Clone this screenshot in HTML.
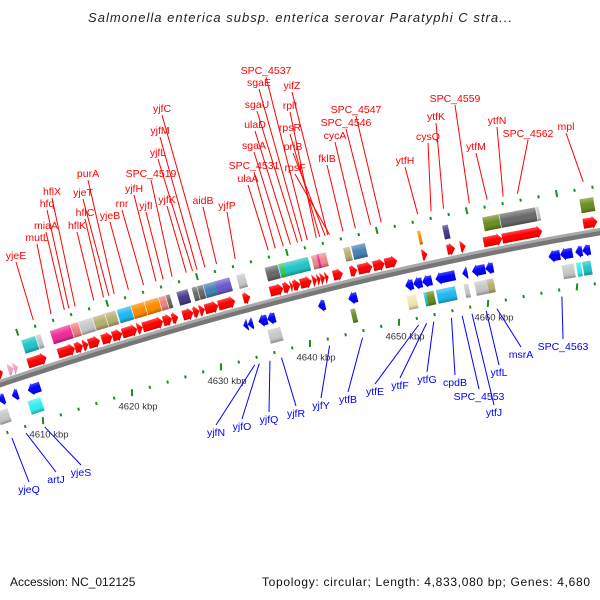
<!DOCTYPE html>
<html><head><meta charset="utf-8">
<style>
html,body{margin:0;padding:0;background:#fff;}
svg{display:block;font-family:"Liberation Sans","DejaVu Sans",sans-serif;}
</style></head>
<body>
<svg id="chart" width="600" height="600" viewBox="0 0 600 600" xmlns="http://www.w3.org/2000/svg">
<defs>
<linearGradient id="shade" x1="0" y1="0" x2="0" y2="1">
<stop offset="0" stop-color="#fff" stop-opacity="0.35"/>
<stop offset="0.45" stop-color="#fff" stop-opacity="0"/>
<stop offset="0.75" stop-color="#000" stop-opacity="0.05"/>
<stop offset="1" stop-color="#000" stop-opacity="0.3"/>
</linearGradient>
</defs>
<text x="88" y="22" font-size="13" font-style="italic" fill="#222" textLength="424" lengthAdjust="spacing">Salmonella enterica subsp. enterica serovar Paratyphi C stra...</text>
<g id="ticks"></g>
<path id="backbone-shadow" d="M-2,385 Q300,283 602,232" fill="none" stroke="#777" stroke-width="6"/>
<path id="backbone" d="M-2,382 Q300,280 602,229" fill="none" stroke="#a8a8a8" stroke-width="3"/>
<g id="features"></g>
<g id="labels"></g>
<text x="10" y="586" font-size="12" fill="#111">Accession: NC_012125</text>
<text x="262" y="586" font-size="12" fill="#111" textLength="328" lengthAdjust="spacing">Topology: circular; Length: 4,833,080 bp; Genes: 4,680</text>
</svg>
<script>
// ---- data (positions in kbp) ----
const fwdStart=[4605.0,4606.1,4606.7,4608.3,4611.7,4613.6,4614.5,4615.1,4616.6,4617.8,4618.9,4620.6,4621.2,4623.5,4624.5,4625.7,4626.9,4627.6,4628.2,4629.7,4632.5,4635.5,4637.0,4637.8,4638.1,4638.9,4640.3,4640.8,4641.2,4641.7,4642.6,4644.5,4645.4,4647.1,4648.4,4652.6,4655.4,4656.9,4659.5,4661.6,4670.7];
const fwdEnd=  [4605.5,4606.7,4607.2,4610.4,4613.6,4614.5,4615.1,4616.4,4617.8,4618.9,4620.6,4621.2,4623.5,4624.5,4625.2,4626.9,4627.6,4628.2,4629.7,4631.6,4633.3,4637.0,4637.8,4638.1,4638.9,4640.2,4640.8,4641.2,4641.7,4642.1,4643.7,4645.3,4647.0,4648.4,4649.8,4653.2,4656.3,4657.5,4661.6,4666.1,4672.3];
const fwdColor=["red","pink","pink","red","red","red","red","red","red","red","red","red","red","red","red","red","red","red","red","red","red","red","red","red","red","red","red","red","red","red","red","red","red","red","red","red","red","red","red","red","red"];
const fwdBoxStart=[4607.8,4609.4,4611.0,4613.3,4614.2,4615.8,4617.2,4618.5,4620.1,4621.6,4623.2,4624.0,4625.2,4626.9,4627.5,4628.2,4629.5,4631.9,4635.1,4636.6,4636.8,4640.3,4640.9,4643.9,4644.8,4652.2,4655.0,4659.5,4661.4,4665.5,4670.4];
const fwdBoxEnd=  [4609.4,4610.0,4613.3,4614.2,4615.8,4617.2,4618.4,4620.1,4621.6,4623.2,4624.0,4624.5,4626.5,4627.5,4628.2,4629.6,4631.2,4632.9,4636.6,4640.0,4637.2,4642.0,4641.2,4644.7,4646.4,4652.6,4655.7,4661.4,4665.5,4665.9,4672.0];
const fwdBoxColor=["#22c5c5","#c8c8c8","#ee2b9b","#f08080","#c8c8c8","#b8b070","#b8b070","#20b8f0","#ff8c00","#ff8c00","#f08080","#6a6a6a","#483d8b","#6a6a6a","#6a6a6a","#4682b4","#6a5acd","#c8c8c8","#6a6a6a","#22c5c5","#44cc22","#f08890","#ee2b9b","#b8b070","#4682b4","#ff8c00","#483d8b","#6b8e23","#6a6a6a","#c8c8c8","#6b8e23"];
const revStart=[4605.0,4606.5,4608.3,4632.5,4633.0,4634.2,4635.2,4640.9,4644.3,4650.7,4651.6,4652.6,4654.1,4657.1,4658.2,4659.7,4666.8,4668.1,4669.8,4670.6];
const revEnd=  [4605.7,4607.2,4609.7,4633.0,4633.6,4635.2,4636.1,4641.7,4645.3,4651.6,4652.6,4653.7,4656.3,4657.7,4659.7,4660.6,4668.1,4669.5,4670.6,4671.5];
const revBoxStart=[4605.0,4608.5,4635.4,4644.7,4651.0,4652.9,4653.2,4654.3,4657.4,4658.6,4660.0,4668.4,4670.0,4670.7];
const revBoxEnd=  [4606.3,4610.0,4636.9,4645.3,4652.1,4653.7,4654.1,4656.5,4658.0,4660.2,4660.8,4669.8,4670.6,4671.7];
const revBoxColor=["#c8c8c8","#33eeee","#c8c8c8","#6b8e23","#eee8aa","#22c5c5","#6b8e23","#20b8f0","#c8c8c8","#c8c8c8","#b8b070","#c8c8c8","#33eeee","#22c5c5"];
const kbpTicks=[4610,4620,4630,4640,4650,4660];
const kbpTickLabels=["4610 kbp","4620 kbp","4630 kbp","4640 kbp","4650 kbp","4660 kbp"];
// ---- label layout (annotation placement) ----
const redNames=["yjeE","mutL","miaA","hfq","hflX","hflK","hflC","yjeT","purA","yjeB","rnr","yjfH","yjfI","SPC_4519","yjfK","yjfL","yjfM","yjfC","aidB","yjfP","ulaA","SPC_4531","sgaA","ulaD","sgaU","sgaE","SPC_4537","yifZ","rplI","rpsR","priB","rpsF","fklB","cycA","SPC_4546","SPC_4547","ytfH","cysQ","ytfK","SPC_4559","ytfM","ytfN","SPC_4562","mpl"];
const redTextPos=[[16,259],[37,241],[46,229],[47,207],[52,195],[77,229],[85,216],[83,196],[88,177],[110,219],[122,207],[134,192],[146,209],[151,177],[167,203],[158,156],[160,134],[162,112],[203,204],[227,209],[248,182],[254,169],[254,149],[255,128],[257,108],[259,86],[266,74],[292,89],[290,109],[290,131],[293,150],[295,171],[327,162],[335,139],[346,126],[356,113],[405,164],[428,140],[436,120],[455,102],[476,150],[497,124],[528,137],[566,130]];
const redTarget=[4608.9,4610.9,4612.4,4612.9,4613.6,4615.7,4616.8,4617.4,4618.0,4619.6,4621.3,4622.7,4623.5,4624.5,4626.1,4626.8,4627.3,4628.2,4629.5,4631.6,4635.3,4636.1,4637.0,4637.8,4638.6,4639.1,4639.7,4642.0,4640.7,4641.1,4641.7,4642.2,4643.7,4645.1,4646.8,4648.0,4652.1,4653.6,4655.0,4657.9,4659.9,4661.7,4663.3,4670.7];
const blueNames=["yjeQ","artJ","yjeS","yjfN","yjfO","yjfQ","yjfR","yjfY","ytfB","ytfE","ytfF","ytfG","cpdB","SPC_4553","ytfJ","ytfL","msrA","SPC_4563"];
const blueTextPos=[[29,493],[56,483],[81,476],[216,436],[242,430],[269,423],[296,417],[321,409],[348,403],[375,395],[400,389],[427,383],[455,386],[479,400],[494,416],[499,376],[521,358],[563,350]];
const blueTarget=[4606.5,4608.1,4610.2,4633.8,4634.3,4635.5,4636.8,4642.2,4645.9,4652.2,4653.1,4653.9,4655.9,4657.1,4658.2,4659.8,4661.0,4668.3];

// ---- geometry ----
const NS="http://www.w3.org/2000/svg";
function xOf(k){return 43+(k-4610)*8.9;}
function curveY(x){const t=x/600;return (1-t)*(1-t)*382+2*t*(1-t)*280+t*t*230;}
function angleAt(x){const t=x/600;const dy=-204*(1-t)-100*t;return Math.atan2(dy,600);}
function mk(tag,attrs,parent){const e=document.createElementNS(NS,tag);for(const k in attrs)e.setAttribute(k,attrs[k]);parent.appendChild(e);return e;}
const feat=document.getElementById('features');
const tickG=document.getElementById('ticks');
const labG=document.getElementById('labels');

function placed(k0,k1,off){
  const x0=xOf(k0),x1=xOf(k1);const a=angleAt((x0+x1)/2);
  const L=(x1-x0)/Math.cos(a);
  const g=mk('g',{transform:`translate(${x0.toFixed(2)},${(curveY(x0)+off).toFixed(2)}) rotate(${(a*180/Math.PI).toFixed(2)})`},feat);
  return {g,L};
}
function arrowPts(L,dir){
  const h=6.5,hd=Math.min(5,L);
  let p;
  if(dir>0){p=L<=5?[[0,-h],[L,0],[0,h]]:[[0,-h+1.5],[L-hd,-h+1.5],[L-hd,-h],[L,0],[L-hd,h],[L-hd,h-1.5],[0,h-1.5]];}
  else{p=L<=5?[[L,-h],[0,0],[L,h]]:[[L,-h+1.5],[hd,-h+1.5],[hd,-h],[0,0],[hd,h],[hd,h-1.5],[L,h-1.5]];}
  return p.map(q=>q[0].toFixed(2)+','+q[1]).join(' ');
}
for(let i=0;i<fwdStart.length;i++){
  const {g,L}=placed(fwdStart[i],fwdEnd[i],-9);
  const c=fwdColor[i]==="pink"?"#f5a0c8":"#ff0000";
  const p=mk('polygon',{points:arrowPts(L,1),fill:c},g);
  
  
  mk('polygon',{points:arrowPts(L,1),fill:'url(#shade)'},g);
}
for(let i=0;i<revStart.length;i++){
  const {g,L}=placed(revStart[i],revEnd[i],18);
  const p=mk('polygon',{points:arrowPts(L,-1),fill:'#0000ff'},g);
  
  
  mk('polygon',{points:arrowPts(L,-1),fill:'url(#shade)'},g);
}
function boxes(s,e,c,off,name){
  for(let i=0;i<s.length;i++){
    const {g,L}=placed(s[i],e[i],off);
    const r=mk('rect',{x:0,y:-7,width:Math.max(L-0.6,1).toFixed(2),height:14,fill:c[i]},g);
    
    
    mk('rect',{x:0,y:-7,width:Math.max(L-0.6,1).toFixed(2),height:14,fill:'url(#shade)'},g);
  }
}
boxes(fwdBoxStart,fwdBoxEnd,fwdBoxColor,-27,'forward-feature-box');
boxes(revBoxStart,revBoxEnd,revBoxColor,36,'reverse-feature-box');

function tickRing(k0,k1,off,majorEvery,startK){
  let i=0;
  for(let k=startK;k<=k1;k+=2.02,i++){
    if(k<k0)continue;
    const x=xOf(k);const y=curveY(x)+off;const a=angleAt(x)*180/Math.PI;
    const major=(i%majorEvery===0);
    const r=mk('rect',{x:(x-1).toFixed(2),y:(y-(major?3.5:1.5)).toFixed(2),width:2,height:major?7:3,fill:'#1e8c1e',transform:`rotate(${a.toFixed(2)} ${x.toFixed(2)} ${y.toFixed(2)})`},tickG);
    
    
  }
}
tickRing(4604.5,4672.6,-44,5,4607.1);
for(let k=4604;k<=4672;k+=2){
  const x=xOf(k);const y=curveY(x)+53;const a=angleAt(x)*180/Math.PI;
  const major=(k%10===0);
  const r=mk('rect',{x:(x-1).toFixed(2),y:(y-(major?3.5:1.5)).toFixed(2),width:2,height:major?7:3,fill:'#1e8c1e',transform:`rotate(${(a+(major?15:0)).toFixed(2)} ${x.toFixed(2)} ${y.toFixed(2)})`},tickG);
  
  
}
for(let i=0;i<kbpTicks.length;i++){
  const x=xOf(kbpTicks[i]);const y=curveY(x)+53;
  const t=mk('text',{x:(x+6).toFixed(2),y:(y+17).toFixed(2),'font-size':'9.5',fill:'#333','text-anchor':'middle'},tickG);
  t.textContent=kbpTickLabels[i];
  
  
}

for(let i=0;i<redNames.length;i++){
  const [tx,ty]=redTextPos[i];const gx=xOf(redTarget[i]);const gy=curveY(gx)-51;
  const l=mk('line',{x1:tx,y1:ty+3,x2:gx.toFixed(2),y2:gy.toFixed(2),stroke:'#ff0000','stroke-width':1},labG);
  
  
  const t=mk('text',{x:tx,y:ty,'font-size':'10.5',fill:'#ff0000','text-anchor':'middle'},labG);
  t.textContent=redNames[i];
  
  
}
for(let i=0;i<blueNames.length;i++){
  const [tx,ty]=blueTextPos[i];const gx=xOf(blueTarget[i]);const gy=curveY(gx)+60;
  const l=mk('line',{x1:tx,y1:ty-11,x2:gx.toFixed(2),y2:gy.toFixed(2),stroke:'#0000ff','stroke-width':1},labG);
  
  
  const t=mk('text',{x:tx,y:ty,'font-size':'10.5',fill:'#0000ff','text-anchor':'middle'},labG);
  t.textContent=blueNames[i];
  
  
}
</script>
</body></html>
